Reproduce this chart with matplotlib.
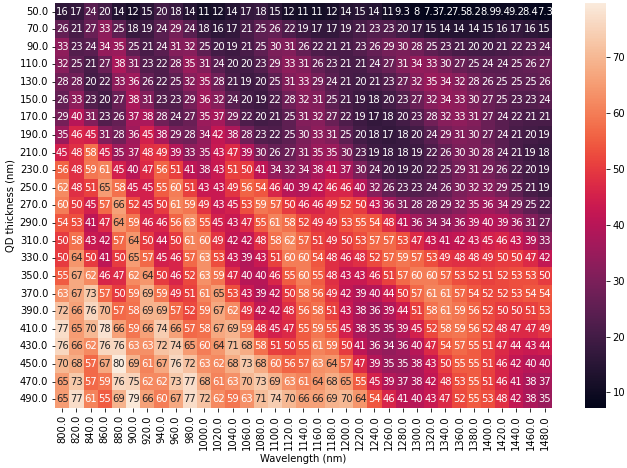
import matplotlib
matplotlib.use("Agg")
import matplotlib.pyplot as plt
import seaborn as sns
import numpy as np
import pandas as pd

wavelengths = [800.0 + 20 * i for i in range(35)]
thickness = [50.0 + 20 * i for i in range(23)]

row_050 = [16, 17, 24, 20, 14, 12, 15, 20, 18, 14, 11, 12, 14, 17, 18, 15, 12, 11, 11, 12, 14, 15, 14, 11, 9.3, 8, 7.3, 7.2, 7.5, 8.2, 8.9, 9.4, 9.2, 8.4, 7.3]
row_070 = [26, 21, 27, 33, 25, 18, 19, 24, 29, 24, 18, 16, 17, 21, 25, 26, 22, 19, 17, 17, 19, 21, 23, 23, 20, 17, 15, 14, 14, 14, 15, 16, 17, 16, 15]
row_090 = [33, 23, 24, 34, 35, 25, 21, 24, 31, 32, 25, 20, 19, 21, 25, 30, 31, 26, 22, 21, 21, 23, 26, 29, 30, 28, 25, 23, 21, 20, 20, 21, 22, 23, 24]
row_110 = [32, 25, 21, 27, 38, 31, 23, 22, 28, 35, 31, 24, 20, 20, 23, 29, 33, 31, 26, 23, 21, 21, 24, 27, 31, 34, 33, 30, 27, 25, 24, 24, 25, 26, 27]
row_130 = [28, 28, 20, 22, 33, 36, 26, 22, 25, 32, 35, 28, 21, 19, 20, 25, 31, 33, 29, 24, 21, 20, 21, 23, 27, 32, 35, 34, 32, 28, 26, 25, 25, 25, 26]
row_150 = [26, 33, 23, 20, 27, 38, 31, 23, 23, 29, 36, 32, 24, 20, 19, 22, 28, 32, 31, 25, 21, 19, 18, 20, 23, 27, 32, 34, 33, 30, 27, 25, 23, 23, 24]
row_170 = [29, 40, 31, 23, 26, 37, 38, 28, 24, 27, 35, 37, 29, 22, 20, 21, 25, 31, 32, 27, 22, 19, 17, 18, 20, 23, 28, 32, 33, 31, 27, 24, 22, 21, 21]
row_190 = [35, 46, 45, 31, 28, 36, 45, 38, 29, 28, 34, 42, 38, 28, 23, 22, 25, 30, 33, 31, 25, 20, 18, 17, 18, 20, 24, 29, 31, 30, 27, 24, 21, 20, 19]
row_210 = [45, 48, 58, 45, 35, 37, 48, 49, 39, 33, 35, 43, 47, 39, 30, 26, 27, 31, 35, 35, 30, 23, 19, 18, 18, 19, 22, 26, 30, 30, 28, 24, 21, 19, 18]
row_230 = [56, 48, 59, 61, 45, 40, 47, 56, 51, 41, 38, 43, 51, 50, 41, 34, 32, 34, 38, 41, 37, 30, 24, 20, 19, 20, 22, 25, 29, 31, 29, 26, 22, 20, 19]
row_250 = [62, 48, 51, 65, 58, 45, 45, 55, 60, 51, 43, 43, 49, 56, 54, 46, 40, 39, 42, 46, 46, 40, 32, 26, 23, 23, 24, 26, 30, 32, 32, 29, 25, 21, 19]
row_270 = [60, 50, 45, 57, 66, 52, 45, 50, 61, 59, 49, 43, 45, 53, 59, 57, 50, 46, 46, 49, 52, 50, 43, 36, 31, 28, 28, 29, 32, 35, 36, 34, 29, 25, 22]
row_290 = [54, 53, 41, 47, 64, 59, 46, 46, 56, 63, 55, 45, 43, 47, 55, 61, 58, 52, 49, 49, 53, 55, 54, 48, 41, 36, 34, 34, 36, 39, 40, 39, 36, 31, 27]
row_310 = [50, 58, 43, 42, 57, 64, 50, 44, 50, 61, 60, 49, 42, 42, 48, 58, 62, 57, 51, 49, 50, 53, 57, 57, 53, 47, 43, 41, 42, 43, 45, 46, 43, 39, 33]
row_330 = [50, 64, 50, 41, 50, 65, 57, 45, 46, 57, 63, 53, 43, 39, 43, 51, 60, 60, 54, 48, 46, 48, 52, 57, 59, 57, 53, 49, 48, 48, 49, 50, 50, 47, 42]
row_350 = [55, 67, 62, 46, 47, 62, 64, 50, 46, 52, 63, 59, 47, 40, 40, 46, 55, 60, 55, 48, 43, 43, 46, 51, 57, 60, 60, 57, 53, 52, 51, 52, 53, 53, 50]
row_370 = [63, 67, 73, 57, 50, 59, 69, 59, 49, 51, 61, 65, 53, 43, 39, 42, 50, 58, 56, 49, 42, 39, 40, 44, 50, 57, 61, 61, 57, 54, 52, 52, 53, 54, 54]
row_390 = [72, 66, 76, 70, 57, 58, 69, 69, 57, 52, 59, 67, 62, 49, 42, 42, 48, 56, 58, 51, 43, 38, 36, 39, 44, 51, 58, 61, 59, 56, 52, 50, 50, 51, 53]
row_410 = [77, 65, 70, 78, 66, 59, 66, 74, 66, 57, 58, 67, 69, 59, 48, 45, 47, 55, 59, 55, 45, 38, 35, 35, 39, 45, 52, 58, 59, 56, 52, 48, 47, 47, 49]
row_430 = [76, 66, 62, 76, 76, 63, 63, 72, 74, 65, 60, 64, 71, 68, 58, 51, 50, 55, 61, 59, 50, 41, 36, 34, 36, 40, 47, 54, 57, 55, 51, 47, 44, 43, 44]
row_450 = [70, 68, 57, 67, 79.7, 69, 61, 67, 76, 72, 63, 62, 68, 73, 68, 60, 56, 57, 63, 64, 57, 47, 39, 35, 35, 38, 43, 50, 55, 55, 51, 46, 42, 40, 40]
row_470 = [65, 73, 57, 59, 76, 75, 62, 62, 73, 77, 68, 61, 63, 70, 73, 69, 63, 61, 64, 68, 65, 55, 45, 39, 37, 38, 42, 48, 53, 55, 51, 46, 41, 38, 37]
row_490 = [65, 77, 61, 55, 69, 79, 66, 60, 67, 77, 72, 62, 59, 63, 71, 74, 70, 66, 66, 69, 70, 64, 54, 46, 41, 40, 43, 47, 52, 55, 53, 48, 42, 38, 35]

rows = [row_050, row_070, row_090, row_110, row_130, row_150, row_170, row_190,
        row_210, row_230, row_250, row_270, row_290, row_310, row_330, row_350,
        row_370, row_390, row_410, row_430, row_450, row_470, row_490]

df = pd.DataFrame(rows, index=thickness, columns=wavelengths)

fig = plt.figure(figsize=(627 / 72, 468 / 72), dpi=72)
ax = fig.add_axes([0.088, 0.128, 0.792, 0.866])
cax = fig.add_axes([0.933, 0.128, 0.033, 0.866])

sns.heatmap(df, annot=True, ax=ax, cbar_ax=cax, xticklabels=True, yticklabels=True)
ax.set_xlabel("Wavelength (nm)")
ax.set_ylabel("QD thickness (nm)")

fig.savefig("out.png", dpi=72)
